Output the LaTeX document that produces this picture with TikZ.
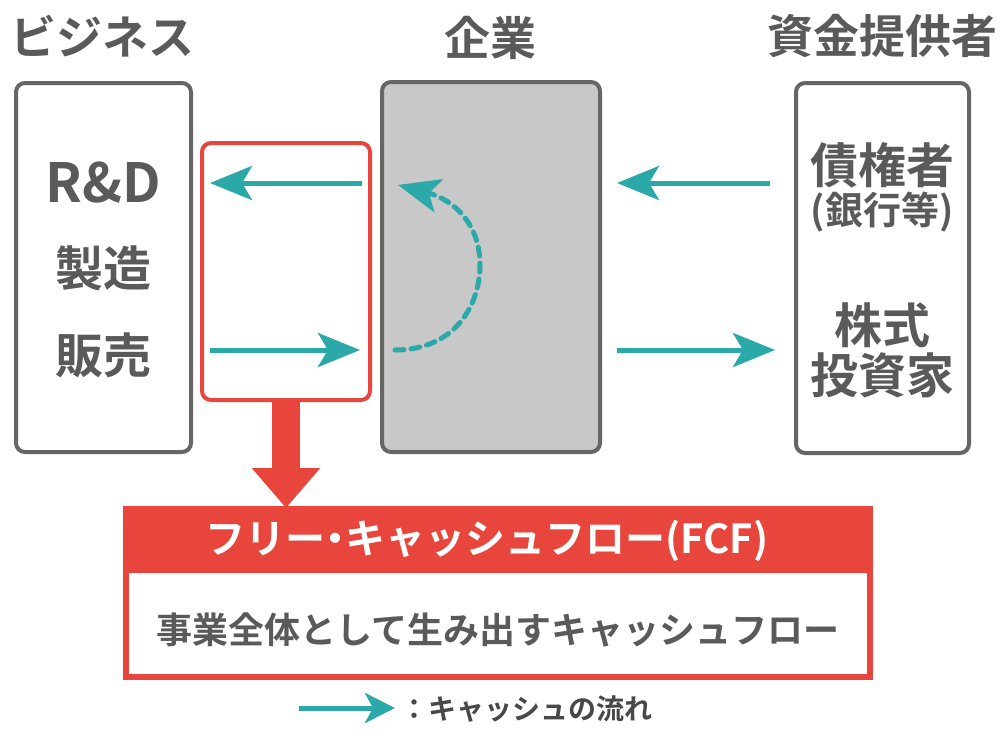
\documentclass[tikz,border=0pt]{standalone}
\usepackage{fontspec}
\setmainfont{Noto Sans CJK JP}[BoldFont={Noto Sans CJK JP Bold}]
\usetikzlibrary{arrows.meta}
\definecolor{txtgray}{HTML}{5A5A5A}
\definecolor{boxgray}{HTML}{666666}
\definecolor{fillgray}{HTML}{C8C8C8}
\definecolor{teal}{HTML}{2BA8A8}
\definecolor{fcfred}{HTML}{E8453C}
\tikzset{
  title/.style={font=\fontsize{46}{50}\selectfont\bfseries, text=txtgray, inner sep=0pt},
  boxtxt/.style={font=\fontsize{48}{52}\selectfont\bfseries, text=txtgray, inner sep=0pt},
  gbox/.style={draw=boxgray, line width=4pt, rounded corners=9pt, inner sep=0pt},
  cash/.style={draw=teal, line width=5pt, -{Stealth[length=42pt,width=34pt,inset=10pt]}},
}
\begin{document}
\begin{tikzpicture}[x=1pt,y=-1pt]
\useasboundingbox (0,0) rectangle (1006,729);
% titles
\node[title] (tbiz) at (102,36) {ビジネス};
\node[title] (tcorp) at (490,38) {企業};
\node[title] (tfund) at (882,36) {資金提供者};
% boxes
\node[gbox, minimum width=175pt, minimum height=369pt] (biz) at (103.5,267.5) {};
\node[gbox, fill=fillgray, minimum width=218pt, minimum height=370pt] (corp) at (491,267) {};
\node[gbox, minimum width=173pt, minimum height=370pt] (fund) at (882.5,268) {};
\node[draw=fcfred, line width=4pt, rounded corners=9pt, minimum width=168pt, minimum height=257pt, inner sep=0pt] (red) at (286,271.5) {};
% left texts
\node[font=\fontsize{54}{58}\selectfont\bfseries, text=txtgray, inner sep=0pt] (rd) at (103,183) {R\&D};
\node[boxtxt] (seizo) at (103,268) {製造};
\node[boxtxt] (hanbai) at (103,355) {販売};
% right texts
\node[boxtxt] (saiken) at (882,165) {債権者};
\node[font=\fontsize{38}{42}\selectfont\bfseries, text=txtgray, inner sep=0pt] (ginko) at (882,212) {(銀行等)};
\node[boxtxt] (kabu) at (882,325) {株式};
\node[boxtxt] (toshi) at (882,375) {投資家};
% teal arrows
\coordinate (a1s) at (362,183); \coordinate (a1e) at (210,183);
\coordinate (a2s) at (210,350); \coordinate (a2e) at (360,350);
\coordinate (a3s) at (770,183); \coordinate (a3e) at (617,183);
\coordinate (a4s) at (617,350); \coordinate (a4e) at (775,350);
\draw[cash] (a1s) -- (a1e);
\draw[cash] (a2s) -- (a2e);
\draw[cash] (a3s) -- (a3e);
\draw[cash] (a4s) -- (a4e);
% dashed loop
\coordinate (ds) at (395,350); \coordinate (dm) at (480,265); \coordinate (de) at (398,185);
\draw[draw=teal, line width=5pt, line cap=round, dash pattern=on 9pt off 7pt, -{Stealth[length=42pt,width=34pt,inset=10pt]}]
  (ds) .. controls (455,350) and (480,305) .. (dm) .. controls (480,225) and (455,200) .. (de);
% FCF box
\node[draw=fcfred, line width=4pt, minimum width=742pt, minimum height=166pt, inner sep=0pt] (fcf) at (498,593) {};
\fill[fcfred] (fcf.north west) rectangle ([yshift=-65pt]fcf.north east);
\draw[fcfred, line width=4pt] (fcf.north west) rectangle (fcf.south east);
\node[font=\fontsize{40}{44}\selectfont\bfseries, text=white, inner sep=0pt] (fcft) at (487,541) {フリー{\kern-10pt}・{\kern-10pt}キャッシュフロー(FCF)};
\node[font=\fontsize{36}{40}\selectfont\bfseries, text=txtgray, inner sep=0pt] (fcfb) at (498,630) {事業全体として生み出すキャッシュフロー};
% red arrow
\draw[fcfred, line width=28pt, -{Triangle[length=40pt,width=66pt]}] (red.south) -- (red.south |- fcf.north);
% legend
\coordinate (ls) at (299,708); \coordinate (le) at (395,708);
\draw[draw=teal, line width=5pt, -{Stealth[length=30pt,width=30pt,inset=8pt]}] (ls) -- (le);
\node[font=\fontsize{28}{32}\selectfont\bfseries, text=txtgray!80!black, anchor=west, inner sep=0pt] (leg) at (400,709) {：キャッシュの流れ};
\end{tikzpicture}
\end{document}
